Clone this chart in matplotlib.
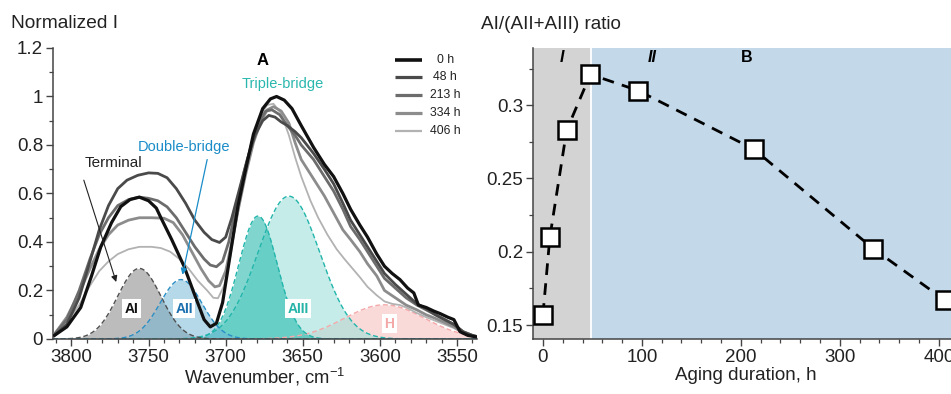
import numpy as np
import matplotlib
matplotlib.use("Agg")
import matplotlib.pyplot as plt
from matplotlib.ticker import MultipleLocator, FuncFormatter

plt.rcParams['font.family'] = ['Liberation Sans', 'DejaVu Sans']
plt.rcParams['mathtext.fontset'] = 'custom'
plt.rcParams['mathtext.rm'] = 'Liberation Sans'

# --- spectra (normalized intensity vs wavenumber) ---
wn_0h = [3811, 3803, 3794, 3787, 3781, 3774, 3768, 3762, 3756, 3750, 3745, 3742, 3735,
         3727, 3720, 3714, 3710, 3706, 3702, 3697, 3692, 3687, 3682, 3676, 3671, 3667,
         3662, 3657, 3651, 3643, 3636, 3630, 3624, 3619, 3613, 3608, 3602, 3597, 3592,
         3587, 3582, 3578, 3575, 3570, 3565, 3561, 3556, 3552, 3548, 3543, 3537]
i_0h = [0.015, 0.05, 0.13, 0.26, 0.38, 0.48, 0.546, 0.575, 0.585, 0.57, 0.54, 0.50, 0.41,
        0.30, 0.18, 0.08, 0.05, 0.065, 0.15, 0.35, 0.55, 0.70, 0.845, 0.95, 0.99, 1.0,
        0.985, 0.95, 0.88, 0.79, 0.72, 0.67, 0.60, 0.535, 0.47, 0.42, 0.35, 0.30, 0.27,
        0.245, 0.21, 0.19, 0.14, 0.13, 0.115, 0.105, 0.09, 0.08, 0.03, 0.015, 0.008]

wn_48h = [3811, 3803, 3795, 3788, 3782, 3776, 3770, 3764, 3757, 3750, 3744, 3738, 3732,
          3726, 3720, 3714, 3709, 3704, 3700, 3696, 3691, 3686, 3681, 3676, 3672, 3668,
          3664, 3660, 3655, 3651, 3643, 3636, 3630, 3624, 3619, 3613, 3608, 3602, 3597,
          3590, 3583, 3576, 3570, 3564, 3558, 3552, 3546, 3540, 3537]
i_48h = [0.015, 0.06, 0.17, 0.32, 0.45, 0.55, 0.62, 0.655, 0.675, 0.685, 0.683, 0.665, 0.62,
         0.56, 0.49, 0.44, 0.41, 0.398, 0.42, 0.50, 0.62, 0.74, 0.84, 0.90, 0.922, 0.915,
         0.895, 0.88, 0.855, 0.83, 0.765, 0.70, 0.64, 0.56, 0.49, 0.43, 0.38, 0.32, 0.27,
         0.225, 0.185, 0.145, 0.125, 0.10, 0.08, 0.06, 0.03, 0.015, 0.01]

wn_213h = [3811, 3803, 3795, 3788, 3782, 3776, 3770, 3763, 3756, 3750, 3744, 3738, 3732,
           3726, 3720, 3714, 3710, 3706, 3702, 3698, 3693, 3688, 3683, 3678, 3674, 3670,
           3665, 3660, 3655, 3651, 3643, 3636, 3630, 3624, 3619, 3613, 3608, 3602, 3597,
           3590, 3583, 3576, 3570, 3564, 3558, 3552, 3546, 3540, 3537]
i_213h = [0.02, 0.08, 0.20, 0.33, 0.43, 0.50, 0.55, 0.575, 0.585, 0.58, 0.57, 0.545, 0.50,
          0.44, 0.38, 0.33, 0.305, 0.298, 0.32, 0.40, 0.55, 0.69, 0.81, 0.90, 0.94, 0.945,
          0.925, 0.88, 0.84, 0.80, 0.74, 0.67, 0.61, 0.535, 0.464, 0.41, 0.36, 0.30, 0.25,
          0.21, 0.17, 0.14, 0.12, 0.10, 0.08, 0.06, 0.03, 0.015, 0.01]

wn_334h = [3811, 3803, 3795, 3788, 3782, 3776, 3770, 3763, 3756, 3748, 3740, 3734, 3728,
           3722, 3716, 3711, 3707, 3704, 3700, 3696, 3692, 3687, 3682, 3677, 3673, 3669,
           3664, 3659, 3655, 3651, 3643, 3636, 3630, 3624, 3619, 3613, 3608, 3602, 3597,
           3590, 3583, 3576, 3570, 3564, 3558, 3552, 3546, 3540, 3537]
i_334h = [0.02, 0.09, 0.19, 0.29, 0.37, 0.43, 0.47, 0.49, 0.50, 0.50, 0.498, 0.48, 0.43,
          0.36, 0.29, 0.24, 0.215, 0.22, 0.28, 0.40, 0.53, 0.68, 0.81, 0.90, 0.945, 0.958,
          0.94, 0.89, 0.81, 0.74, 0.66, 0.59, 0.52, 0.45, 0.41, 0.36, 0.31, 0.26, 0.20,
          0.17, 0.14, 0.12, 0.10, 0.085, 0.068, 0.05, 0.025, 0.012, 0.008]

wn_406h = [3811, 3803, 3795, 3788, 3782, 3776, 3770, 3763, 3756, 3748, 3742, 3736, 3730,
           3724, 3718, 3712, 3708, 3705, 3701, 3697, 3692, 3687, 3682, 3677, 3673, 3669,
           3664, 3659, 3655, 3651, 3645, 3640, 3634, 3628, 3623, 3619, 3613, 3608, 3602,
           3597, 3592, 3587, 3583, 3576, 3570, 3564, 3558, 3552, 3546, 3540, 3537]
i_406h = [0.02, 0.07, 0.14, 0.22, 0.28, 0.32, 0.35, 0.37, 0.38, 0.38, 0.375, 0.36, 0.33,
          0.29, 0.24, 0.20, 0.17, 0.168, 0.22, 0.34, 0.52, 0.69, 0.83, 0.93, 0.965, 0.97,
          0.93, 0.84, 0.75, 0.67, 0.57, 0.50, 0.43, 0.37, 0.33, 0.30, 0.255, 0.215, 0.18,
          0.155, 0.145, 0.14, 0.13, 0.107, 0.09, 0.075, 0.06, 0.045, 0.025, 0.012, 0.008]

spectra = [("0 h", wn_0h, i_0h, "#111111", 2.3),
           ("48 h", wn_48h, i_48h, "#4a4a4a", 2.0),
           ("213 h", wn_213h, i_213h, "#6c6c6c", 2.0),
           ("334 h", wn_334h, i_334h, "#8c8c8c", 2.0),
           ("406 h", wn_406h, i_406h, "#b2b2b2", 1.3)]

# --- fitted Gaussian bands: name, center, height, sigma ---
band_names = ["H", "AIII", "AIII", "AI", "AII"]
band_centers = [3597, 3659, 3679, 3756, 3729]
band_heights = [0.141, 0.589, 0.507, 0.291, 0.245]
band_sigmas = [26, 20, 12.5, 14, 13.5]
band_fill = ["#f7b5b5", "#9fe0da", "#2bbcb0", "#999999", "#6fb5d5"]
band_alpha = [0.5, 0.6, 0.6, 0.65, 0.5]
band_edge = ["#f5a8a8", "#22b5ab", "#22b5ab", "#505050", "#2a8fc6"]

# --- AI/(AII+AIII) ratio vs aging time ---
aging_h = [0, 7, 24, 48, 96, 213, 334, 406]
ratio = [0.157, 0.21, 0.283, 0.321, 0.31, 0.27, 0.202, 0.167]
stage_split = 48

fig = plt.figure(figsize=(9.51, 3.94), dpi=100)
ax = fig.add_axes([0.0557, 0.1396, 0.4459, 0.7386])
ax2 = fig.add_axes([0.5605, 0.1396, 0.4475, 0.7386])

fmt = FuncFormatter(lambda v, p: "%g" % round(v, 3))

# left panel
wn = np.linspace(3812, 3537, 800)
for c, h, s, fc, a, ec in zip(band_centers, band_heights, band_sigmas,
                              band_fill, band_alpha, band_edge):
    g = h * np.exp(-0.5 * ((wn - c) / s) ** 2)
    ax.fill_between(wn, 0, g, color=fc, alpha=a, lw=0, zorder=1)
    ax.plot(wn, g, color=ec, lw=1.0, ls=(0, (3.5, 2)), zorder=2)

for name, x, y, col, lw in spectra[::-1]:
    ax.plot(x, y, color=col, lw=lw, zorder=3, solid_joinstyle="round")

label_style = dict(fontsize=10, fontweight="bold", ha="center", va="center", zorder=5,
                   bbox=dict(boxstyle="square,pad=0.18", fc="white", ec="none"))
ax.text(3761, 0.124, "AI", color="#111111", **label_style)
ax.text(3727, 0.124, "AII", color="#1a6fae", **label_style)
ax.text(3653, 0.124, "AIII", color="#26b3a8", **label_style)
ax.text(3594, 0.063, "H", color="#f4a7a7", **label_style)

ax.text(3773, 0.725, "Terminal", fontsize=11, ha="center", va="center", color="#222222")
ax.annotate("", xy=(3771, 0.235), xytext=(3792, 0.655),
            arrowprops=dict(arrowstyle="-|>", color="#222222", lw=0.8,
                            mutation_scale=9, shrinkA=0, shrinkB=0))
ax.text(3727, 0.79, "Double-bridge", fontsize=10.5, ha="center", va="center",
        color="#1a8cc8")
ax.annotate("", xy=(3728, 0.265), xytext=(3712, 0.74),
            arrowprops=dict(arrowstyle="-|>", color="#1a8cc8", lw=0.9,
                            mutation_scale=9, shrinkA=0, shrinkB=0))
ax.text(3663, 1.05, "Triple-bridge", fontsize=10.5, ha="center", va="center",
        color="#2ab8ae")
ax.text(3676, 1.15, "A", fontsize=12, fontweight="bold", ha="center", va="center")

# legend drawn as short line samples with centered labels
rows = [0.959, 0.899, 0.838, 0.777, 0.716]
for (name, x, y, col, lw), ry in zip(spectra, rows):
    ax.plot([0.807, 0.870], [ry, ry], color=col, lw=lw + 0.3,
            transform=ax.transAxes, solid_capstyle="butt", clip_on=False)
    ax.text(0.925, ry, name, transform=ax.transAxes, fontsize=8.8,
            ha="center", va="center", color="#222222")

ax.set_xlim(3812, 3537)
ax.set_ylim(0, 1.2)
ax.xaxis.set_major_locator(MultipleLocator(50))
ax.xaxis.set_minor_locator(MultipleLocator(10))
ax.yaxis.set_major_locator(MultipleLocator(0.2))
ax.yaxis.set_minor_locator(MultipleLocator(0.1))
ax.yaxis.set_major_formatter(fmt)
ax.set_xlabel(r"Wavenumber, cm$^{\mathregular{-1}}$", fontsize=13.3, labelpad=0,
              color="#222222")
fig.text(0.012, 0.94, "Normalized I", fontsize=13.8, ha="left", va="center",
         color="#222222")

# right panel
ax2.axvspan(-10, stage_split, color="#d3d3d3", lw=0, zorder=0)
ax2.axvspan(stage_split, 450, color="#c3d8e8", lw=0, zorder=0)
ax2.axvline(stage_split + 0.6, color="white", lw=1.3, zorder=1)
ax2.plot(aging_h, ratio, color="black", lw=2, ls=(0, (4.2, 3)), marker="s",
         ms=13.5, mfc="white", mec="black", mew=1.8, zorder=3, clip_on=False)
ax2.text(19, 0.3325, "I", fontsize=11.5, fontweight="bold", style="italic",
         ha="center", va="center")
ax2.text(110, 0.3325, "II", fontsize=11.5, fontweight="bold", style="italic",
         ha="center", va="center")
ax2.text(206, 0.3325, "B", fontsize=11.5, fontweight="bold", ha="center", va="center")

ax2.set_xlim(-10, 420)
ax2.set_ylim(0.1405, 0.339)
ax2.xaxis.set_major_locator(MultipleLocator(100))
ax2.xaxis.set_minor_locator(MultipleLocator(20))
ax2.yaxis.set_major_locator(MultipleLocator(0.05))
ax2.yaxis.set_minor_locator(MultipleLocator(0.025))
ax2.yaxis.set_major_formatter(fmt)
ax2.set_xlabel("Aging duration, h", fontsize=13.5, labelpad=1, color="#222222")
fig.text(0.5055, 0.937, "AI/(AII+AIII) ratio", fontsize=13.6, ha="left", va="center",
         color="#222222")

for a in (ax, ax2):
    for side in ("top", "right"):
        a.spines[side].set_visible(False)
    for side in ("left", "bottom"):
        a.spines[side].set_color("#444444")
        a.spines[side].set_linewidth(1.1)
    a.tick_params(which="major", length=5, width=1, color="#444444",
                  labelsize=13.5, labelcolor="#222222", pad=2)
    a.tick_params(which="minor", length=3, width=0.9, color="#444444")

fig.savefig("out.png", dpi=100)
